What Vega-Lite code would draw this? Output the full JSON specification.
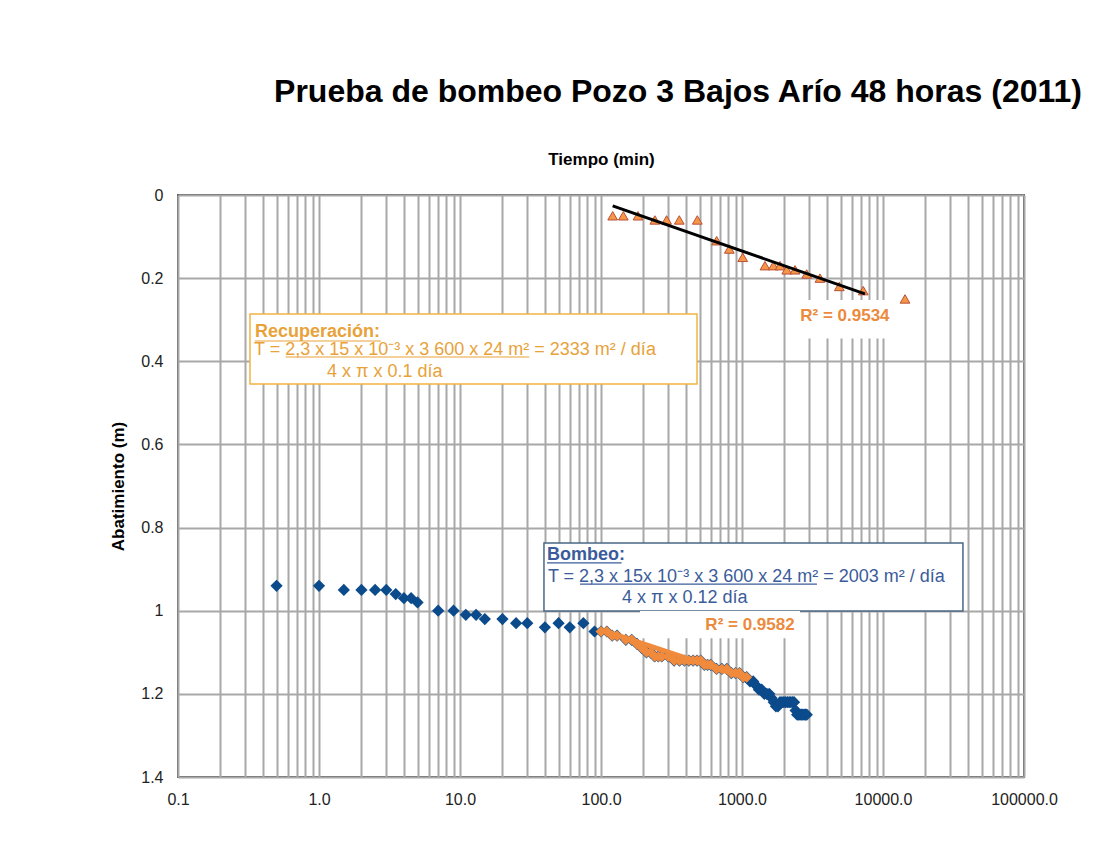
{
  "$schema": "https://vega.github.io/schema/vega-lite/v6.json",
  "width": 846,
  "height": 582,
  "autosize": {"type": "none"},
  "padding": {"left": 178, "top": 195, "right": 69, "bottom": 69},
  "background": "white",
  "title": {
    "text": "Prueba de bombeo Pozo 3 Bajos Arío 48 horas (2011)",
    "font": "Liberation Sans",
    "fontSize": 32,
    "fontWeight": "bold",
    "color": "#000000",
    "anchor": "middle",
    "frame": "group",
    "dx": 77,
    "baseline": "alphabetic",
    "offset": 16
  },
  "config": {
    "view": {"stroke": "#5a5a5a", "strokeWidth": 2},
    "axis": {
      "labelFont": "Liberation Sans",
      "titleFont": "Liberation Sans",
      "labelColor": "#222222",
      "titleColor": "#000000",
      "gridColor": "#A8A8A8",
      "gridWidth": 2,
      "ticks": false,
      "tickSize": 0,
      "domain": false
    }
  },
  "datasets": {
    "bombeo": [
      {"t": 0.5, "s": 0.94}, {"t": 1, "s": 0.94}, {"t": 1.5, "s": 0.95}, {"t": 2, "s": 0.95},
      {"t": 2.5, "s": 0.95}, {"t": 3, "s": 0.95}, {"t": 3.5, "s": 0.96}, {"t": 4, "s": 0.97},
      {"t": 4.5, "s": 0.97}, {"t": 5, "s": 0.98}, {"t": 7, "s": 1.0}, {"t": 9, "s": 1.0},
      {"t": 11, "s": 1.01}, {"t": 13, "s": 1.01}, {"t": 15, "s": 1.02}, {"t": 20, "s": 1.02},
      {"t": 25, "s": 1.03}, {"t": 30, "s": 1.03}, {"t": 40, "s": 1.04}, {"t": 50, "s": 1.03},
      {"t": 60, "s": 1.04}, {"t": 75, "s": 1.03}, {"t": 90, "s": 1.05},
      {"t": 100, "s": 1.05}, {"t": 110, "s": 1.05}, {"t": 120, "s": 1.06}, {"t": 130, "s": 1.06},
      {"t": 150, "s": 1.07}, {"t": 165, "s": 1.07}, {"t": 180, "s": 1.08}, {"t": 195, "s": 1.09},
      {"t": 210, "s": 1.1}, {"t": 225, "s": 1.1}, {"t": 240, "s": 1.11}, {"t": 255, "s": 1.11},
      {"t": 270, "s": 1.11}, {"t": 300, "s": 1.11}, {"t": 330, "s": 1.12}, {"t": 360, "s": 1.12},
      {"t": 390, "s": 1.12}, {"t": 420, "s": 1.12}, {"t": 450, "s": 1.12}, {"t": 480, "s": 1.12},
      {"t": 510, "s": 1.12}, {"t": 540, "s": 1.13}, {"t": 570, "s": 1.13}, {"t": 600, "s": 1.13},
      {"t": 660, "s": 1.14}, {"t": 720, "s": 1.14}, {"t": 780, "s": 1.14}, {"t": 840, "s": 1.15},
      {"t": 900, "s": 1.15}, {"t": 960, "s": 1.15}, {"t": 1020, "s": 1.16}, {"t": 1080, "s": 1.16},
      {"t": 1140, "s": 1.17}, {"t": 1200, "s": 1.17}, {"t": 1260, "s": 1.18}, {"t": 1320, "s": 1.19},
      {"t": 1380, "s": 1.19}, {"t": 1440, "s": 1.2}, {"t": 1500, "s": 1.2}, {"t": 1560, "s": 1.2},
      {"t": 1620, "s": 1.21}, {"t": 1680, "s": 1.22}, {"t": 1740, "s": 1.23}, {"t": 1800, "s": 1.23},
      {"t": 1860, "s": 1.22}, {"t": 1920, "s": 1.22}, {"t": 1980, "s": 1.22}, {"t": 2040, "s": 1.22},
      {"t": 2100, "s": 1.22}, {"t": 2160, "s": 1.22}, {"t": 2220, "s": 1.22}, {"t": 2280, "s": 1.22},
      {"t": 2340, "s": 1.22}, {"t": 2400, "s": 1.24}, {"t": 2460, "s": 1.25}, {"t": 2520, "s": 1.25},
      {"t": 2580, "s": 1.25}, {"t": 2640, "s": 1.25}, {"t": 2700, "s": 1.25}, {"t": 2760, "s": 1.25},
      {"t": 2820, "s": 1.25}, {"t": 2880, "s": 1.25}
    ],
    "recuperacion": [
      {"t": 121, "s": 0.05}, {"t": 144, "s": 0.05}, {"t": 183, "s": 0.05}, {"t": 241, "s": 0.06},
      {"t": 292, "s": 0.06}, {"t": 359, "s": 0.06}, {"t": 482, "s": 0.06}, {"t": 661, "s": 0.11},
      {"t": 813, "s": 0.13}, {"t": 1012, "s": 0.15}, {"t": 1455, "s": 0.17}, {"t": 1668, "s": 0.17},
      {"t": 1862, "s": 0.17}, {"t": 2077, "s": 0.18}, {"t": 2378, "s": 0.18}, {"t": 2876, "s": 0.19},
      {"t": 3573, "s": 0.2}, {"t": 4900, "s": 0.22}, {"t": 7244, "s": 0.23}, {"t": 14320, "s": 0.25}
    ],
    "tendRecup": [{"t": 121, "s": 0.026}, {"t": 7447, "s": 0.238}],
    "tendBombeo": [{"t": 103, "s": 1.047}, {"t": 1050, "s": 1.161}]
  },
  "resolve": {"axis": {"x": "independent", "y": "independent"}},
  "layer": [
    {
      "data": {"values": [{"t": 0.324, "t2": 479.6, "s": 0.2863, "s2": 0.4547}]},
      "mark": {"type": "rect", "fill": "white", "stroke": "#F2B440", "strokeWidth": 1.5},
      "encoding": {
        "x": {"field": "t", "type": "quantitative", "scale": {"type": "log", "domain": [0.1, 100000], "nice": false},
          "axis": {"orient": "top", "values": [0.1,0.2,0.3,0.4,0.5,0.6,0.7,0.8,0.9,1,2,3,4,5,6,7,8,9,10,20,30,40,50,60,70,80,90,100,200,300,400,500,600,700,800,900,1000,2000,3000,4000,5000,6000,7000,8000,9000,10000,20000,30000,40000,50000,60000,70000,80000,90000,100000],
            "labels": false, "grid": true, "title": "Tiempo (min)", "titleFontSize": 17, "titleFontWeight": "bold", "titlePadding": 27}},
        "x2": {"field": "t2"},
        "y": {"field": "s", "type": "quantitative", "scale": {"domain": [0, 1.4], "reverse": true, "nice": false},
          "axis": {"orient": "left", "values": [0, 0.2, 0.4, 0.6, 0.8, 1, 1.2, 1.4], "format": "~g", "grid": true, "labelFontSize": 16, "labelPadding": 15,
            "title": "Abatimiento (m)", "titleFontSize": 17, "titleFontWeight": "bold", "titlePadding": 13}},
        "y2": {"field": "s2"}
      }
    },
    {
      "data": {"values": [{"t": 39.4, "t2": 36900, "s": 0.837, "s2": 1.0007}]},
      "mark": {"type": "rect", "fill": "white", "stroke": "#4A6785", "strokeWidth": 1.5},
      "encoding": {
        "x": {"field": "t", "type": "quantitative", "scale": {"type": "log", "domain": [0.1, 100000], "nice": false}, "axis": null},
        "x2": {"field": "t2"},
        "y": {"field": "s", "type": "quantitative", "scale": {"domain": [0, 1.4], "reverse": true, "nice": false}, "axis": null},
        "y2": {"field": "s2"}
      }
    },
    {
      "data": {"values": [{"t": 2084, "t2": 11220, "s": 0.2526, "s2": 0.345}, {"t": 189, "t2": 2577, "s": 1.0007, "s2": 1.066}]},
      "mark": {"type": "rect", "fill": "white"},
      "encoding": {
        "x": {"field": "t", "type": "quantitative", "scale": {"type": "log", "domain": [0.1, 100000], "nice": false}, "axis": null},
        "x2": {"field": "t2"},
        "y": {"field": "s", "type": "quantitative", "scale": {"domain": [0, 1.4], "reverse": true, "nice": false}, "axis": null},
        "y2": {"field": "s2"}
      }
    },
    {
      "data": {"name": "bombeo"},
      "mark": {"type": "point", "shape": "diamond", "filled": true, "size": 150, "color": "#0B4A8B", "opacity": 1},
      "encoding": {
        "x": {"field": "t", "type": "quantitative", "scale": {"type": "log", "domain": [0.1, 100000], "nice": false},
          "axis": {"orient": "bottom", "values": [0.1, 1, 10, 100, 1000, 10000, 100000], "format": ".1f", "grid": false,
            "labelFontSize": 16, "labelPadding": 14, "labelFlush": false, "labelOverlap": false, "title": null}},
        "y": {"field": "s", "type": "quantitative", "scale": {"domain": [0, 1.4], "reverse": true, "nice": false}, "axis": null}
      }
    },
    {
      "data": {"name": "bombeo"},
      "transform": [{"filter": {"field": "t", "range": [100, 1080]}}],
      "mark": {"type": "point", "shape": "diamond", "filled": true, "size": 120, "color": "#F08A3C", "opacity": 1},
      "encoding": {
        "x": {"field": "t", "type": "quantitative", "scale": {"type": "log", "domain": [0.1, 100000], "nice": false}, "axis": null},
        "y": {"field": "s", "type": "quantitative", "scale": {"domain": [0, 1.4], "reverse": true, "nice": false}, "axis": null}
      }
    },
    {
      "data": {"name": "tendBombeo"},
      "mark": {"type": "line", "color": "#F08A3C", "strokeWidth": 5},
      "encoding": {
        "x": {"field": "t", "type": "quantitative", "scale": {"type": "log", "domain": [0.1, 100000], "nice": false}, "axis": null},
        "y": {"field": "s", "type": "quantitative", "scale": {"domain": [0, 1.4], "reverse": true, "nice": false}, "axis": null}
      }
    },
    {
      "data": {"name": "recuperacion"},
      "mark": {"type": "point", "shape": "triangle-up", "filled": true, "size": 95, "fill": "#F79646", "stroke": "#B8503A", "strokeWidth": 1, "opacity": 1},
      "encoding": {
        "x": {"field": "t", "type": "quantitative", "scale": {"type": "log", "domain": [0.1, 100000], "nice": false}, "axis": null},
        "y": {"field": "s", "type": "quantitative", "scale": {"domain": [0, 1.4], "reverse": true, "nice": false}, "axis": null}
      }
    },
    {
      "data": {"name": "tendRecup"},
      "mark": {"type": "line", "color": "#000000", "strokeWidth": 3},
      "encoding": {
        "x": {"field": "t", "type": "quantitative", "scale": {"type": "log", "domain": [0.1, 100000], "nice": false}, "axis": null},
        "y": {"field": "s", "type": "quantitative", "scale": {"domain": [0, 1.4], "reverse": true, "nice": false}, "axis": null}
      }
    },
    {
      "data": {"values": [
        {"t": 0.3516, "t2": 2.75, "s": 0.3512},
        {"t": 0.58, "t2": 31, "s": 0.3897}
      ]},
      "mark": {"type": "rule", "color": "#E8A23A", "strokeWidth": 1.2},
      "encoding": {
        "x": {"field": "t", "type": "quantitative", "scale": {"type": "log", "domain": [0.1, 100000], "nice": false}, "axis": null},
        "x2": {"field": "t2"},
        "y": {"field": "s", "type": "quantitative", "scale": {"domain": [0, 1.4], "reverse": true, "nice": false}, "axis": null}
      }
    },
    {
      "data": {"values": [
        {"t": 41.4, "t2": 140, "s": 0.885},
        {"t": 71, "t2": 3400, "s": 0.9358}
      ]},
      "mark": {"type": "rule", "color": "#3B5C9A", "strokeWidth": 1.2},
      "encoding": {
        "x": {"field": "t", "type": "quantitative", "scale": {"type": "log", "domain": [0.1, 100000], "nice": false}, "axis": null},
        "x2": {"field": "t2"},
        "y": {"field": "s", "type": "quantitative", "scale": {"domain": [0, 1.4], "reverse": true, "nice": false}, "axis": null}
      }
    },
    {
      "data": {"values": [{"t": 0.3516, "s": 0.329, "texto": "Recuperación:"}]},
      "mark": {"type": "text", "align": "left", "baseline": "middle", "font": "Liberation Sans", "fontSize": 18, "fontWeight": "bold", "color": "#E8A23A"},
      "encoding": {
        "x": {"field": "t", "type": "quantitative", "scale": {"type": "log", "domain": [0.1, 100000], "nice": false}, "axis": null},
        "y": {"field": "s", "type": "quantitative", "scale": {"domain": [0, 1.4], "reverse": true, "nice": false}, "axis": null},
        "text": {"field": "texto"}
      }
    },
    {
      "data": {"values": [
        {"t": 0.346, "s": 0.3729, "texto": "T = 2,3 x 15 x 10⁻³ x 3 600 x 24 m² = 2333 m² / día"},
        {"t": 1.14, "s": 0.425, "texto": "4 x π x 0.1 día"}
      ]},
      "mark": {"type": "text", "align": "left", "baseline": "middle", "font": "Liberation Sans", "fontSize": 18, "color": "#E8A23A"},
      "encoding": {
        "x": {"field": "t", "type": "quantitative", "scale": {"type": "log", "domain": [0.1, 100000], "nice": false}, "axis": null},
        "y": {"field": "s", "type": "quantitative", "scale": {"domain": [0, 1.4], "reverse": true, "nice": false}, "axis": null},
        "text": {"field": "texto"}
      }
    },
    {
      "data": {"values": [{"t": 41.4, "s": 0.866, "texto": "Bombeo:"}]},
      "mark": {"type": "text", "align": "left", "baseline": "middle", "font": "Liberation Sans", "fontSize": 18, "fontWeight": "bold", "color": "#3B5C9A"},
      "encoding": {
        "x": {"field": "t", "type": "quantitative", "scale": {"type": "log", "domain": [0.1, 100000], "nice": false}, "axis": null},
        "y": {"field": "s", "type": "quantitative", "scale": {"domain": [0, 1.4], "reverse": true, "nice": false}, "axis": null},
        "text": {"field": "texto"}
      }
    },
    {
      "data": {"values": [
        {"t": 42, "s": 0.918, "texto": "T = 2,3 x 15x 10⁻³ x 3 600 x 24 m² = 2003 m² / día"},
        {"t": 141, "s": 0.969, "texto": "4 x π x 0.12 día"}
      ]},
      "mark": {"type": "text", "align": "left", "baseline": "middle", "font": "Liberation Sans", "fontSize": 18, "color": "#3B5C9A"},
      "encoding": {
        "x": {"field": "t", "type": "quantitative", "scale": {"type": "log", "domain": [0.1, 100000], "nice": false}, "axis": null},
        "y": {"field": "s", "type": "quantitative", "scale": {"domain": [0, 1.4], "reverse": true, "nice": false}, "axis": null},
        "text": {"field": "texto"}
      }
    },
    {
      "data": {"values": [
        {"t": 5370, "s": 0.291, "texto": "R² = 0.9534"},
        {"t": 1140, "s": 1.034, "texto": "R² = 0.9582"}
      ]},
      "mark": {"type": "text", "align": "center", "baseline": "middle", "font": "Liberation Sans", "fontSize": 17, "fontWeight": "bold", "color": "#EC8A3E"},
      "encoding": {
        "x": {"field": "t", "type": "quantitative", "scale": {"type": "log", "domain": [0.1, 100000], "nice": false}, "axis": null},
        "y": {"field": "s", "type": "quantitative", "scale": {"domain": [0, 1.4], "reverse": true, "nice": false}, "axis": null},
        "text": {"field": "texto"}
      }
    }
  ]
}
